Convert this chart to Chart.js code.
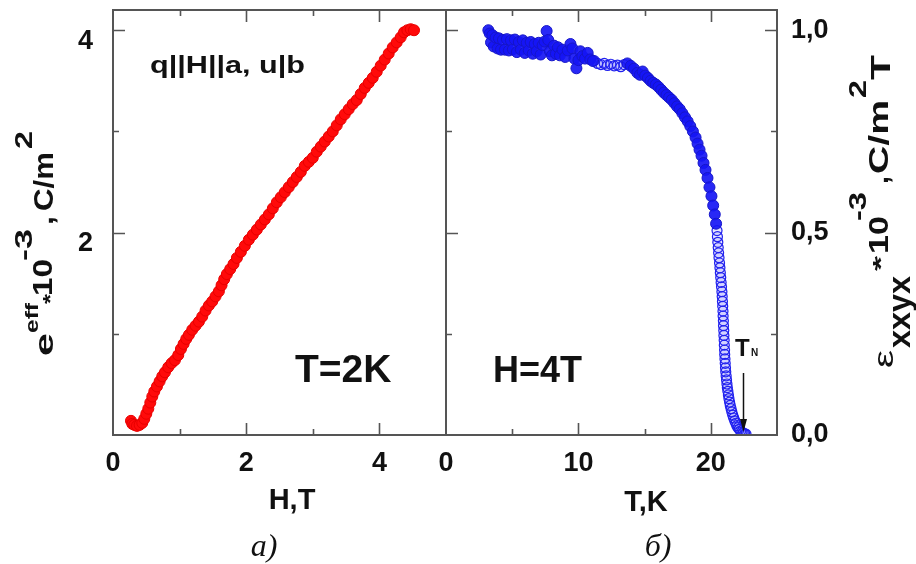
<!DOCTYPE html>
<html>
<head>
<meta charset="utf-8">
<script src="https://cdn.jsdelivr.net/npm/chart.js@4.4.1/dist/chart.umd.min.js"></script>
<style>
  html, body { margin: 0; padding: 0; background: #fff; }
  #wrap { position: relative; width: 916px; height: 564px; }
  #wrap canvas { position: absolute; left: 0; top: 0; }
</style>
</head>
<body>
<div id="wrap">
  <canvas id="panelA" width="916" height="564"></canvas>
  <canvas id="panelB" width="916" height="564"></canvas>
</div>
<script>
// Panel a): effective piezo coefficient e_eff versus field H at T = 2 K
const fieldH = [0.27, 0.29, 0.32, 0.36, 0.40, 0.44, 0.47, 0.50, 0.53, 0.56, 0.59, 0.62, 0.66, 0.70, 0.74, 0.78,
  0.83, 0.88, 0.93, 0.98, 1.02, 1.06, 1.10, 1.14, 1.19, 1.24, 1.29, 1.34, 1.39, 1.44, 1.49, 1.54, 1.59, 1.63,
  1.67, 1.71, 1.76, 1.81, 1.86, 1.92, 1.98, 2.04, 2.10, 2.16, 2.22, 2.28, 2.34, 2.40, 2.46, 2.52, 2.58, 2.64,
  2.70, 2.76, 2.82, 2.88, 2.94, 3.00, 3.06, 3.12, 3.18, 3.24, 3.30, 3.36, 3.42, 3.48, 3.54, 3.60, 3.66, 3.72,
  3.78, 3.84, 3.90, 3.96, 4.02, 4.08, 4.14, 4.20, 4.26, 4.32, 4.37, 4.42, 4.47, 4.52];
const eEff = [0.14, 0.11, 0.10, 0.09, 0.10, 0.12, 0.16, 0.21, 0.26, 0.32, 0.38, 0.43, 0.48, 0.53, 0.58, 0.62,
  0.67, 0.71, 0.74, 0.79, 0.85, 0.90, 0.95, 0.99, 1.04, 1.08, 1.12, 1.17, 1.23, 1.28, 1.32, 1.37, 1.42, 1.48,
  1.54, 1.59, 1.64, 1.69, 1.75, 1.81, 1.87, 1.93, 1.98, 2.03, 2.08, 2.13, 2.18, 2.24, 2.30, 2.35, 2.40, 2.45,
  2.50, 2.55, 2.60, 2.66, 2.70, 2.74, 2.80, 2.85, 2.90, 2.95, 3.00, 3.06, 3.12, 3.17, 3.22, 3.27, 3.31, 3.37,
  3.43, 3.48, 3.53, 3.59, 3.65, 3.71, 3.77, 3.83, 3.88, 3.93, 3.98, 4.00, 4.01, 4.00];

// Panel б): ε_xxyx versus temperature at H = 4 T (solid and open symbols)
const tempSolid = [3.20, 3.30, 3.40, 3.50, 3.60, 3.75, 3.90, 4.00, 4.15, 4.30, 4.45, 4.60, 4.75, 4.90, 5.05,
  5.20, 5.35, 5.50, 5.65, 5.80, 5.95, 6.10, 6.25, 6.40, 6.55, 6.70, 6.85, 7.00, 7.15, 7.30, 7.45, 7.60, 7.72,
  7.85, 8.00, 8.15, 8.30, 8.45, 8.60, 8.80, 9.00, 9.20, 9.40, 9.55, 9.70, 9.85, 10.00, 10.15, 10.30, 10.50,
  10.70, 10.90, 11.10,
  13.70, 13.95, 14.20, 14.45, 14.65, 14.85, 15.05, 15.25, 15.45, 15.65, 15.85, 16.05, 16.25, 16.45, 16.65,
  16.85, 17.05, 17.25, 17.45, 17.65, 17.85, 18.05, 18.25, 18.45, 18.65, 18.85, 19.00, 19.15, 19.30, 19.45,
  19.60, 19.75, 19.90, 20.05, 20.18, 20.30, 20.40];
const epsSolid = [1.000, 0.992, 0.970, 0.988, 0.960, 0.982, 0.955, 0.980, 0.952, 0.976, 0.952, 0.978, 0.950,
  0.975, 0.953, 0.977, 0.946, 0.971, 0.952, 0.975, 0.944, 0.969, 0.950, 0.971, 0.942, 0.966, 0.948, 0.969,
  0.940, 0.963, 0.972, 0.998, 0.976, 0.948, 0.938, 0.962, 0.942, 0.958, 0.938, 0.952, 0.934, 0.950, 0.966,
  0.955, 0.930, 0.906, 0.926, 0.948, 0.936, 0.930, 0.944, 0.928, 0.924,
  0.918, 0.912, 0.905, 0.895, 0.890, 0.898, 0.888, 0.882, 0.875, 0.870, 0.866, 0.860, 0.853, 0.846, 0.840,
  0.834, 0.828, 0.820, 0.812, 0.805, 0.795, 0.785, 0.775, 0.763, 0.750, 0.735, 0.720, 0.705, 0.690, 0.672,
  0.655, 0.635, 0.612, 0.590, 0.567, 0.545, 0.522];
const tempOpen = [11.20, 11.45, 11.70, 11.95, 12.20, 12.45, 12.70, 12.95, 13.20, 13.45,
  20.47, 20.50, 20.53, 20.56, 20.59, 20.62, 20.66, 20.69, 20.72, 20.75, 20.78, 20.81, 20.84, 20.86, 20.88,
  20.90, 20.92, 20.93, 20.95, 20.96, 20.98, 20.99, 21.01, 21.02, 21.04, 21.05, 21.07, 21.09, 21.11, 21.13,
  21.16, 21.19, 21.22, 21.25, 21.29, 21.33, 21.37, 21.42, 21.47, 21.53, 21.59, 21.66, 21.73, 21.81, 21.89,
  21.97, 22.06, 22.15, 22.25, 22.35, 22.45, 22.56, 22.66];
const epsOpen = [0.925, 0.918, 0.915, 0.918, 0.913, 0.916, 0.912, 0.914, 0.910, 0.915,
  0.505, 0.490, 0.476, 0.463, 0.450, 0.438, 0.425, 0.413, 0.401, 0.389, 0.377, 0.366, 0.354, 0.342, 0.330,
  0.318, 0.306, 0.294, 0.282, 0.270, 0.258, 0.246, 0.234, 0.222, 0.210, 0.199, 0.188, 0.177, 0.166, 0.156,
  0.146, 0.136, 0.126, 0.117, 0.108, 0.099, 0.090, 0.081, 0.073, 0.065, 0.057, 0.049, 0.042, 0.035, 0.029,
  0.023, 0.018, 0.014, 0.010, 0.007, 0.005, 0.003, 0.002];

// Néel temperature marked with an arrow
const neelT = 22.45;

// Axis ticks: labelled values, long and short tick marks
const hLabels = [0, 2, 4];
const hMajor = [2, 4];
const hMinor = [1, 3];
const eLabels = [2, 4];
const eMajor = [2, 4];
const eMinor = [1, 3];
const tLabels = [0, 10, 20];
const tMajor = [10, 20];
const tMinor = [5, 15];
const epsLabels = [0, 0.5, 1.0];
const epsMajor = [0.5, 1.0];
const epsMinor = [0.25, 0.75];

const SANS = "'Liberation Sans', Arial, Helvetica, sans-serif";
const SERIF = "'Liberation Serif', 'Times New Roman', serif";
const INK = '#111111';
const FRAME = '#555555';
const MAJOR_LEN = 12, MINOR_LEN = 6;

const toPoints = (xs, ys) => xs.map((x, i) => ({ x, y: ys[i] }));
const commaNum = v => v.toFixed(1).replace('.', ',');

// Frame around the plot area with inward-pointing tick marks
function drawFrame(chart, spec) {
  const { ctx, chartArea: a } = chart;
  const xs = chart.scales.x, ys = chart.scales.y;
  ctx.save();
  ctx.strokeStyle = FRAME;
  ctx.lineWidth = 2;
  ctx.strokeRect(a.left, a.top, a.right - a.left, a.bottom - a.top);
  ctx.lineWidth = 1.6;
  ctx.beginPath();
  const xt = (v, len) => {
    const p = Math.round(xs.getPixelForValue(v)) + 0.5;
    ctx.moveTo(p, a.bottom); ctx.lineTo(p, a.bottom - len);
    ctx.moveTo(p, a.top); ctx.lineTo(p, a.top + len);
  };
  const yt = (v, len) => {
    const p = Math.round(ys.getPixelForValue(v)) + 0.5;
    if (spec.leftTicks) { ctx.moveTo(a.left, p); ctx.lineTo(a.left + len, p); }
    if (spec.rightTicks) { ctx.moveTo(a.right, p); ctx.lineTo(a.right - len, p); }
  };
  spec.xMajor.forEach(v => xt(v, MAJOR_LEN));
  spec.xMinor.forEach(v => xt(v, MINOR_LEN));
  spec.yMajor.forEach(v => yt(v, MAJOR_LEN));
  spec.yMinor.forEach(v => yt(v, MINOR_LEN));
  ctx.stroke();
  ctx.restore();
}

// Text optionally stretched to a given width
function drawText(ctx, text, x, y, font, align, width) {
  ctx.save();
  ctx.font = font;
  ctx.fillStyle = INK;
  ctx.textBaseline = 'alphabetic';
  const w = ctx.measureText(text).width;
  const sx = width ? width / w : 1;
  const left = align === 'center' ? x - (w * sx) / 2 : x;
  ctx.translate(left, y);
  ctx.scale(sx, 1);
  ctx.textAlign = 'left';
  ctx.fillText(text, 0, 0);
  ctx.restore();
}

// Rotated axis title built from pieces (superscripts / subscripts), read bottom to top
function drawVerticalTitle(ctx, segs) {
  segs.forEach(s => {
    ctx.save();
    ctx.font = s.font;
    ctx.fillStyle = INK;
    const w = ctx.measureText(s.t).width;
    ctx.translate(s.base, s.y0);
    ctx.rotate(-Math.PI / 2);
    ctx.scale((s.y0 - s.y1) / w, 1);
    ctx.textAlign = 'left';
    ctx.textBaseline = 'alphabetic';
    ctx.fillText(s.t, 0, 0);
    ctx.restore();
  });
}

const bold = px => `bold ${px}px ${SANS}`;

const tickFont = { family: SANS, size: 27, weight: 'bold' };

// Fixed axis band sizes, no extra padding for overhanging labels
const fixHeight = h => s => { s.height = h; s.paddingLeft = 0; s.paddingRight = 0; s.paddingTop = 0; s.paddingBottom = 0; };
const fixWidth = w => s => { s.width = w; s.paddingLeft = 0; s.paddingRight = 0; s.paddingTop = 0; s.paddingBottom = 0; };

function baseOptions(padding, xCfg, yCfg) {
  return {
    responsive: false,
    animation: false,
    devicePixelRatio: 1,
    layout: { autoPadding: false, padding },
    plugins: { legend: { display: false }, tooltip: { enabled: false } },
    scales: { x: xCfg, y: yCfg }
  };
}

// ---- Panel a) ----
new Chart(document.getElementById('panelA'), {
  type: 'scatter',
  data: {
    datasets: [{
      label: 'e_eff',
      data: toPoints(fieldH, eEff),
      showLine: true,
      borderColor: '#ff0000',
      borderWidth: 8,
      backgroundColor: '#ff0000',
      pointRadius: 5.5,
      pointBorderWidth: 1,
      pointBorderColor: '#e80000',
      pointBackgroundColor: '#ff0a0a'
    }]
  },
  options: baseOptions(
    { left: 0, top: 10, right: 470, bottom: 0 },
    {
      type: 'linear', position: 'bottom', min: 0, max: 5,
      afterFit: fixHeight(129),
      grid: { display: false, drawTicks: false }, border: { display: false },
      ticks: { stepSize: 1, includeBounds: false, padding: 12, color: INK, font: tickFont, maxRotation: 0, autoSkip: false,
        callback: v => hLabels.includes(v) ? String(v) : '' }
    },
    {
      type: 'linear', position: 'left', min: 0, max: 4.2,
      afterFit: fixWidth(113),
      grid: { display: false, drawTicks: false }, border: { display: false },
      ticks: { stepSize: 1, includeBounds: false, padding: 20, labelOffset: 11, color: INK, font: tickFont, autoSkip: false,
        callback: v => eLabels.includes(v) ? String(v) : '' }
    }
  ),
  plugins: [{
    id: 'panelADecor',
    afterDraw(chart) {
      const ctx = chart.ctx;
      drawFrame(chart, { xMajor: hMajor, xMinor: hMinor, yMajor: eMajor, yMinor: eMinor, leftTicks: true, rightTicks: false });
      drawText(ctx, 'q||H||a, u|b', 150, 73, bold(24), 'left', 155);
      drawText(ctx, 'T=2K', 295, 382, bold(39), 'left');
      drawText(ctx, 'H,T', 292, 509, bold(29), 'center');
      drawText(ctx, 'a)', 264, 556, `italic 32px ${SERIF}`, 'center');
      drawVerticalTitle(ctx, [
        { t: 'e', font: bold(26), base: 53, y0: 356, y1: 333 },
        { t: 'eff', font: bold(19), base: 38, y0: 333, y1: 303 },
        { t: '*', font: bold(20), base: 57, y0: 304, y1: 294 },
        { t: '10', font: bold(28), base: 52, y0: 296, y1: 259 },
        { t: '-3', font: bold(23), base: 32, y0: 261, y1: 229 },
        { t: ',', font: bold(28), base: 53, y0: 225, y1: 216 },
        { t: 'C/m', font: bold(28), base: 53, y0: 211, y1: 152 },
        { t: '2', font: bold(23), base: 32, y0: 149, y1: 131 }
      ]);
    }
  }]
});

// ---- Panel б) ----
new Chart(document.getElementById('panelB'), {
  type: 'scatter',
  data: {
    datasets: [{
      label: 'ε_xxyx',
      data: toPoints(tempSolid, epsSolid),
      pointRadius: 5.5,
      pointBorderWidth: 1,
      pointBorderColor: '#1414c8',
      pointBackgroundColor: 'rgba(22,22,245,0.92)'
    }, {
      label: 'ε_xxyx (open)',
      data: toPoints(tempOpen, epsOpen),
      pointRadius: 5,
      pointBorderWidth: 1.2,
      pointBorderColor: '#2020ee',
      pointBackgroundColor: 'rgba(60,60,255,0.12)'
    }]
  },
  options: baseOptions(
    { left: 446, top: 10, right: 0, bottom: 0 },
    {
      type: 'linear', position: 'bottom', min: 0, max: 25,
      afterFit: fixHeight(129),
      grid: { display: false, drawTicks: false }, border: { display: false },
      ticks: { stepSize: 5, includeBounds: false, padding: 12, color: INK, font: tickFont, maxRotation: 0, autoSkip: false,
        callback: v => tLabels.includes(v) ? String(v) : '' }
    },
    {
      type: 'linear', position: 'right', min: 0, max: 1.05,
      afterFit: fixWidth(139),
      grid: { display: false, drawTicks: false }, border: { display: false },
      ticks: { stepSize: 0.25, includeBounds: false, padding: 14, color: INK, font: tickFont, autoSkip: false,
        callback: v => epsLabels.some(l => Math.abs(l - v) < 1e-9) ? commaNum(v) : '' }
    }
  ),
  plugins: [{
    id: 'panelBDecor',
    afterDraw(chart) {
      const ctx = chart.ctx;
      drawFrame(chart, { xMajor: tMajor, xMinor: tMinor, yMajor: epsMajor, yMinor: epsMinor, leftTicks: true, rightTicks: true });
      drawText(ctx, 'H=4T', 493, 382, bold(36), 'left');
      drawText(ctx, 'T,K', 646, 511, bold(29), 'center');
      drawText(ctx, 'б)', 658, 556, `italic 32px ${SERIF}`, 'center');
      // T_N label and arrow
      drawText(ctx, 'T', 735, 356, bold(24), 'left');
      drawText(ctx, 'N', 751, 356, bold(10), 'left');
      const xp = Math.round(chart.scales.x.getPixelForValue(neelT)) + 0.5;
      ctx.save();
      ctx.strokeStyle = INK; ctx.fillStyle = INK; ctx.lineWidth = 1.5;
      ctx.beginPath(); ctx.moveTo(xp, 373); ctx.lineTo(xp, 421); ctx.stroke();
      ctx.beginPath(); ctx.moveTo(xp - 3.5, 419); ctx.lineTo(xp + 3.5, 419); ctx.lineTo(xp, 432); ctx.closePath(); ctx.fill();
      ctx.restore();
      drawVerticalTitle(ctx, [
        { t: 'ε', font: `28px ${SANS}`, base: 893, y0: 368, y1: 350 },
        { t: 'xxyx', font: bold(32), base: 910, y0: 348, y1: 276 },
        { t: '*', font: bold(22), base: 888, y0: 271, y1: 256 },
        { t: '10', font: bold(27), base: 888, y0: 254, y1: 216 },
        { t: '-3', font: bold(23), base: 866, y0: 221, y1: 192 },
        { t: ',', font: bold(27), base: 888, y0: 184, y1: 176 },
        { t: 'C/m', font: bold(27), base: 888, y0: 174, y1: 100 },
        { t: '2', font: bold(23), base: 866, y0: 98, y1: 80 },
        { t: 'T', font: bold(27), base: 890, y0: 80, y1: 55 }
      ]);
    }
  }]
});
</script>
</body>
</html>
